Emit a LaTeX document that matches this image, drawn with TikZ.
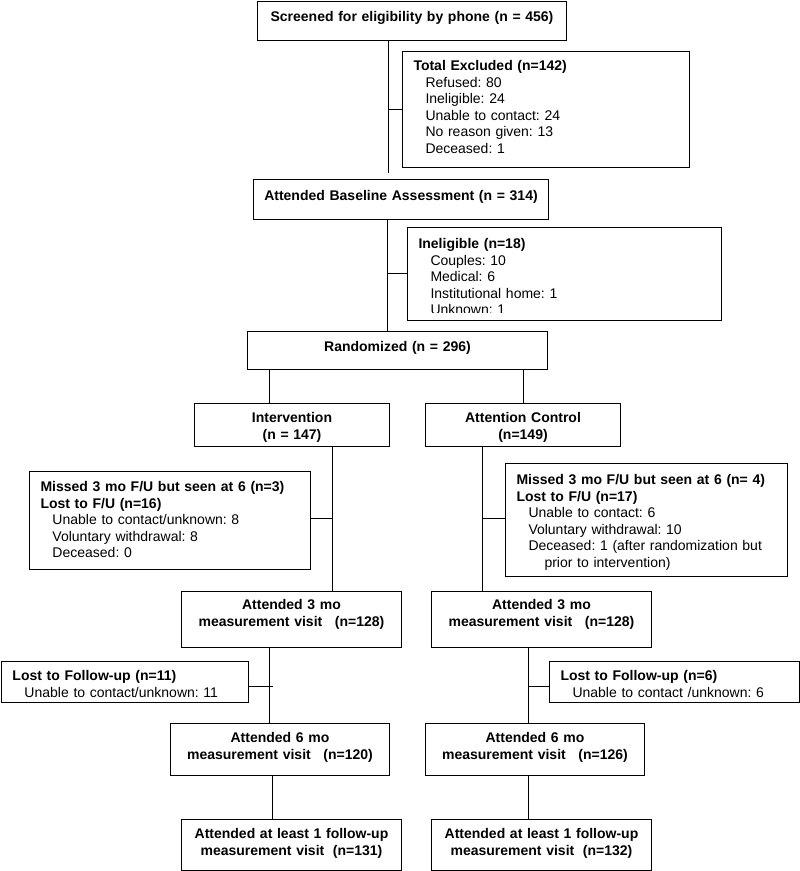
\documentclass[tikz,border=0pt]{standalone}
\usepackage{fontspec}
\setmainfont{Liberation Sans}
\usetikzlibrary{positioning}
\frenchspacing

\begin{document}
\begin{tikzpicture}[x=1pt, y=-1pt, line width=1pt,
    font=\fontsize{14}{16.5}\selectfont,
    flow/.style = {draw, anchor=north west, inner xsep=0pt, inner ysep=0pt, align=center, font=\fontsize{14}{16.5}\selectfont\bfseries},
    side/.style = {draw, anchor=north west, inner xsep=11pt, inner ysep=0pt, align=left}]
    \useasboundingbox (0,0) rectangle (800,871);
    \node[flow, text width=309pt, text height=20pt, text depth=19pt] (screen) at (257,1) {Screened for eligibility by phone (n = 456)};
    \node[side, text width=265pt, text height=19pt, text depth=97pt] (excl) at (402,51) {\textbf{Total Excluded (n=142)}\\
        \hspace*{12pt}Refused: 80\\
        \hspace*{12pt}Ineligible: 24\\
        \hspace*{12pt}Unable to contact: 24\\
        \hspace*{12pt}No reason given: 13\\
        \hspace*{12pt}Deceased: 1};
    \node[flow, text width=295pt, text height=21pt, text depth=19pt] (base) at (253,179) {Attended Baseline Assessment (n = 314)};
    \begin{scope}
        \clip (400,220) rectangle (730,312.8);
        \node[side, draw=none, text width=291pt, text height=21pt, text depth=71pt] (inel) at (407,227) {\textbf{Ineligible (n=18)}\\
            \hspace*{12pt}Couples: 10\\
            \hspace*{12pt}Medical: 6\\
            \hspace*{12pt}Institutional home: 1\\
            \hspace*{12pt}Unknown: 1};
    \end{scope}
    \draw (inel.north west) rectangle (inel.south east);
    \node[flow, text width=300pt, text height=20pt, text depth=18pt] (rand) at (247,331) {Randomized (n = 296)};
    \node[flow, text width=195pt, text height=19pt, text depth=24pt] (interv) at (194,403) {Intervention\\(n = 147)};
    \node[flow, text width=195pt, text height=19pt, text depth=24pt] (ctrl) at (425,403) {Attention Control\\(n=149)};
    \node[side, text width=259pt, text height=20pt, text depth=78pt] (missL) at (29,471) {\textbf{Missed 3 mo F/U but seen at 6 (n=3)}\\
        \textbf{Lost to F/U (n=16)}\\
        \hspace*{12pt}Unable to contact/unknown: 8\\
        \hspace*{12pt}Voluntary withdrawal: 8\\
        \hspace*{12pt}Deceased: 0};
    \node[side, text width=260pt, text height=21pt, text depth=92pt] (missR) at (505,463) {\textbf{Missed 3 mo F/U but seen at 6 (n= 4)}\\
        \textbf{Lost to F/U (n=17)}\\
        \hspace*{12pt}Unable to contact: 6\\
        \hspace*{12pt}Voluntary withdrawal: 10\\
        \hspace*{12pt}Deceased: 1 (after randomization but\\
        \hspace*{28pt}prior to intervention)};
    \node[flow, text width=220pt, text height=18pt, text depth=38pt] (att3L) at (181,591) {Attended 3 mo\\measurement visit\hspace{8pt} (n=128)};
    \node[flow, text width=220pt, text height=18pt, text depth=38pt] (att3R) at (431,591) {Attended 3 mo\\measurement visit\hspace{8pt} (n=128)};
    \node[side, text width=225pt, text height=19pt, text depth=22pt] (lostL) at (1,661) {\textbf{Lost to Follow-up (n=11)}\\
        \hspace*{12pt}Unable to contact/unknown: 11};
    \node[side, text width=228pt, text height=19pt, text depth=22pt] (lostR) at (549,661) {\textbf{Lost to Follow-up (n=6)}\\
        \hspace*{12pt}Unable to contact /unknown: 6};
    \node[flow, text width=219pt, text height=19pt, text depth=33pt] (att6L) at (170,723) {Attended 6 mo\\measurement visit\hspace{8pt} (n=120)};
    \node[flow, text width=219pt, text height=19pt, text depth=33pt] (att6R) at (425,723) {Attended 6 mo\\measurement visit\hspace{8pt} (n=126)};
    \node[flow, text width=220pt, text height=19pt, text depth=32pt] (allL) at (181,819) {Attended at least 1 follow-up\\measurement visit\hspace{4pt} (n=131)};
    \node[flow, text width=220pt, text height=19pt, text depth=32pt] (allR) at (431,819) {Attended at least 1 follow-up\\measurement visit\hspace{4pt} (n=132)};
    \coordinate (c1) at (388,173);
    \coordinate (c2) at (387,250);
    \coordinate (c3) at (269,385);
    \coordinate (c4) at (332,518);
    \coordinate (c5) at (482,518);
    \coordinate (c6) at (269,686);
    \coordinate (tickL) at (273,686);
    \coordinate (c7) at (272,800);
    \coordinate (c8) at (528,686);
    \draw (screen.south -| c1) -- (c1);
    \draw (excl.west) -- (excl.west -| c1);
    \draw (base.south -| c2) -- (rand.north -| c2);
    \draw (inel.west) -- (inel.west -| c2);
    \draw (rand.south -| c3) -- (interv.north -| c3);
    \draw (rand.south -| ctrl.north) -- (ctrl.north);
    \draw (interv.south -| c4) -- (att3L.north -| c4);
    \draw (missL.east |- c4) -- (c4);
    \draw (ctrl.south -| c5) -- (att3R.north -| c5);
    \draw (missR.west |- c5) -- (c5);
    \draw (att3L.south -| c6) -- (att6L.north -| c6);
    \draw (lostL.east |- tickL) -- (tickL);
    \draw (att6L.south -| c7) -- (allL.north -| c7);
    \draw (att3R.south -| c8) -- (att6R.north -| c8);
    \draw (lostR.west |- c8) -- (c8);
    \draw (att6R.south -| c8) -- (allR.north -| c8);
\end{tikzpicture}
\end{document}
